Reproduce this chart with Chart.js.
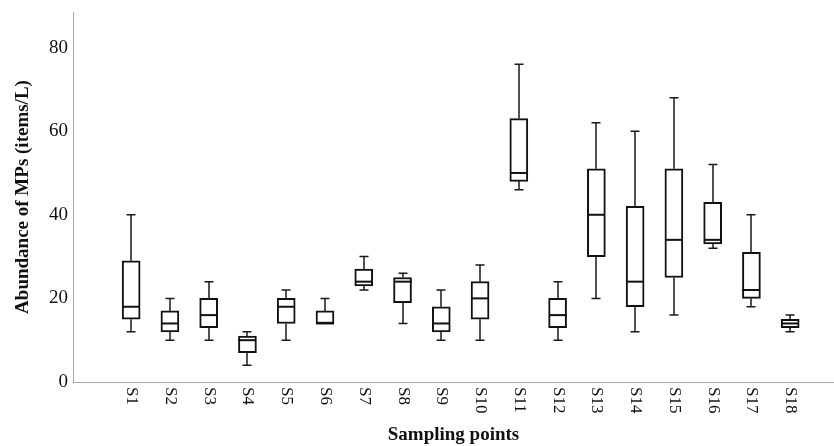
<!DOCTYPE html>
<html>
<head>
<meta charset="utf-8">
<script src="https://cdn.jsdelivr.net/npm/chart.js@4.4.0/dist/chart.umd.min.js"></script>
<style>
  body { margin: 0; background: #fff; }
  #wrap { width: 834px; height: 446px; position: relative; }
</style>
</head>
<body>
<div id="wrap"><canvas id="boxChart"></canvas></div>
<script>
// sampling points and box statistics (items/L)
const labels = ['S1','S2','S3','S4','S5','S6','S7','S8','S9','S10','S11','S12','S13','S14','S15','S16','S17','S18'];
const minVals = [12,10,10,4,10,14,22,14,10,10,46,10,20,12,16,32,18,12];
const q1Vals  = [15,12,13,7,14,14,23,19,12,15,48,13,30,18,25,33,20,13];
const medVals = [18,14,16,10,18,14,24,24,14,20,50,16,40,24,34,34,22,14];
const q3Vals  = [29,17,20,11,20,17,27,25,18,24,63,20,51,42,51,43,31,15];
const maxVals = [40,20,24,12,22,20,30,26,22,28,76,24,62,60,68,52,40,16];
const yTicks = [0,20,40,60,80];

const serif = '"Liberation Serif", "Times New Roman", serif';

// whiskers, medians and the rotated x labels
const boxParts = {
  id: 'boxParts',
  afterDatasetsDraw(chart) {
    const { ctx, scales: { x, y } } = chart;
    ctx.save();
    labels.forEach((lab, i) => {
      const px = Math.round(x.getPixelForValue(i + 1));
      const yMin = y.getPixelForValue(minVals[i]);
      const yMax = y.getPixelForValue(maxVals[i]);
      const yQ1 = y.getPixelForValue(q1Vals[i]);
      const yQ3 = y.getPixelForValue(q3Vals[i]);
      const yMed = y.getPixelForValue(medVals[i]);

      ctx.strokeStyle = '#1a1a1a';
      ctx.lineWidth = 1.5;
      ctx.beginPath();
      if (maxVals[i] > q3Vals[i]) {
        ctx.moveTo(px, yQ3); ctx.lineTo(px, yMax);
        ctx.moveTo(px - 4.5, yMax); ctx.lineTo(px + 4.5, yMax);
      }
      if (minVals[i] < q1Vals[i]) {
        ctx.moveTo(px, yQ1); ctx.lineTo(px, yMin);
        ctx.moveTo(px - 4.5, yMin); ctx.lineTo(px + 4.5, yMin);
      }
      ctx.stroke();

      ctx.strokeStyle = '#111';
      ctx.lineWidth = 2;
      ctx.beginPath();
      ctx.moveTo(px - 9, yMed); ctx.lineTo(px + 9, yMed);
      ctx.stroke();

      ctx.save();
      ctx.translate(px, x.top + 5);
      ctx.rotate(Math.PI / 2);
      ctx.font = '17px ' + serif;
      ctx.fillStyle = '#111';
      ctx.textAlign = 'left';
      ctx.textBaseline = 'middle';
      ctx.fillText(lab, 0, 0);
      ctx.restore();
    });
    ctx.restore();
  }
};

new Chart(document.getElementById('boxChart'), {
  type: 'bar',
  data: {
    datasets: [{
      data: labels.map((l, i) => ({ x: i + 1, y: [q1Vals[i], q3Vals[i]] })),
      backgroundColor: '#fff',
      borderColor: '#111',
      borderWidth: 2,
      borderSkipped: false,
      barThickness: 18
    }]
  },
  options: {
    responsive: true,
    maintainAspectRatio: false,
    animation: false,
    layout: { padding: { top: 12, right: 0, left: 0, bottom: 0 } },
    plugins: {
      legend: { display: false },
      tooltip: { enabled: false }
    },
    scales: {
      x: {
        type: 'linear',
        offset: false,
        min: -0.5,
        max: 19.13,
        grid: { display: false, drawTicks: false, offset: false },
        border: { color: '#aaa', width: 1 },
        ticks: { display: false },
        title: {
          display: true,
          text: 'Sampling points',
          color: '#111',
          font: { family: serif, size: 19, weight: 'bold' },
          padding: { top: 0, bottom: 0 }
        },
        afterFit(scale) { scale.height = 64; }
      },
      y: {
        min: 0,
        max: 88.5,
        grid: { display: false, drawTicks: false },
        border: { color: '#aaa', width: 1 },
        afterBuildTicks(scale) {
          scale.ticks = yTicks.map(v => ({ value: v }));
        },
        ticks: {
          color: '#111',
          padding: 5,
          font: { family: serif, size: 19 }
        },
        title: {
          display: true,
          text: 'Abundance of MPs (items/L)',
          color: '#111',
          font: { family: serif, size: 19, weight: 'bold' },
          padding: { top: 12, bottom: 0 }
        },
        afterFit(scale) {
          scale.width = 73;
          scale.paddingTop = 0;
          scale.paddingBottom = 0;
        }
      }
    }
  },
  plugins: [boxParts]
});
</script>
</body>
</html>
